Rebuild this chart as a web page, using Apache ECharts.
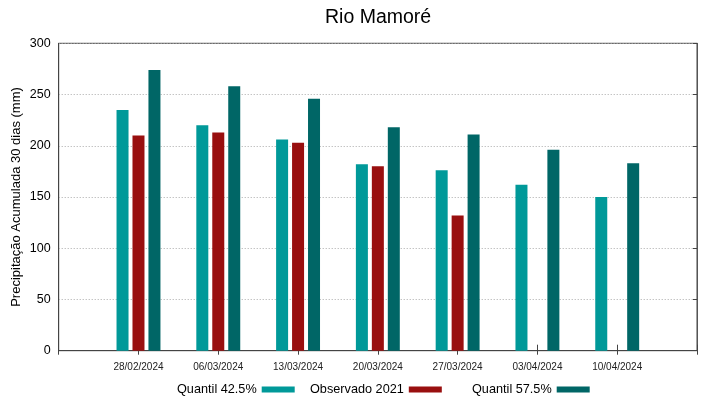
<!DOCTYPE html>
<html>
<head>
<meta charset="utf-8">
<script src="https://cdn.jsdelivr.net/npm/echarts@6/dist/echarts.min.js"></script>
<style>
html, body { margin: 0; padding: 0; background: #fff; }
#chart { width: 719px; height: 399px; }
</style>
</head>
<body>
<div id="chart"></div>
<script>
// datas (eixo x com uma posição vazia em cada ponta, como no gnuplot)
var dates = ['28/02/2024', '06/03/2024', '13/03/2024', '20/03/2024', '27/03/2024', '03/04/2024', '10/04/2024'];
var quantil425 = [235, 220, 206, 182, 176, 162, 150];
var observado2021 = [210, 213, 203, 180, 132, null, null];
var quantil575 = [274, 258, 246, 218, 211, 196, 183];
var yTicks = [0, 50, 100, 150, 200, 250, 300];

var font = 'Liberation Sans, Arial, sans-serif';

function pad(arr) {
    return [null].concat(arr).concat([null]);
}

var cats = pad(dates).map(function (d) { return d || ''; });

var chart = echarts.init(document.getElementById('chart'));

var legendText = { fontFamily: font, fontSize: 12.7, color: '#000' };

var option = {
    animation: false,
    backgroundColor: '#fff',
    textStyle: { fontFamily: font },
    title: {
        text: 'Rio Mamoré',
        left: 320,
        top: 3,
        textStyle: { fontFamily: font, fontSize: 19.5, fontWeight: 'normal', color: '#000' }
    },
    grid: {
        left: 58.7,
        right: 22,
        top: 43.3,
        bottom: 48.3,
        outerBoundsMode: 'none',
        containLabel: false,
        show: true,
        borderColor: '#444',
        borderWidth: 1
    },
    legend: [
        { left: 172, top: 378, align: 'right', itemWidth: 33, itemHeight: 6, icon: 'rect',
          textStyle: legendText, data: ['Quantil 42.5%'] },
        { left: 305, top: 378, align: 'right', itemWidth: 33, itemHeight: 6, icon: 'rect',
          textStyle: legendText, data: ['Observado 2021'] },
        { left: 467, top: 378, align: 'right', itemWidth: 33, itemHeight: 6, icon: 'rect',
          textStyle: legendText, data: ['Quantil 57.5%'] }
    ],
    xAxis: [
        {
            type: 'category',
            data: cats,
            boundaryGap: false,
            axisLine: { show: true, lineStyle: { color: '#444', width: 1 } },
            axisTick: { show: true, inside: true, length: 6, interval: 0, lineStyle: { color: '#444' } },
            axisLabel: { interval: 0, fontSize: 10, color: '#222', margin: 12, fontFamily: font },
            splitLine: { show: false }
        },
        {
            type: 'category',
            position: 'top',
            data: cats,
            boundaryGap: false,
            axisLine: { show: true, lineStyle: { color: '#444', width: 1 } },
            axisTick: { show: true, inside: true, length: 4, interval: 0, lineStyle: { color: '#444' } },
            axisLabel: { show: false },
            splitLine: { show: false }
        }
    ],
    yAxis: [
        {
            type: 'value',
            min: 0,
            max: 300,
            interval: 50,
            name: 'Precipitação Acumulada 30 dias (mm)',
            nameLocation: 'middle',
            nameGap: 36,
            nameMoveOverlap: false,
            nameTextStyle: { fontFamily: font, fontSize: 13, color: '#000' },
            axisLine: { show: true, lineStyle: { color: '#444', width: 1 } },
            axisTick: { show: false },
            axisLabel: {
                fontSize: 12.5, color: '#000', margin: 8, fontFamily: font,
                formatter: function (v) { return yTicks.indexOf(v) >= 0 ? String(v) : ''; }
            },
            splitLine: { show: true, lineStyle: { color: '#aaa', type: [1, 2], width: 1 } }
        },
        {
            type: 'value',
            position: 'right',
            min: 0,
            max: 300,
            interval: 50,
            axisLine: { show: true, lineStyle: { color: '#555', width: 1 } },
            axisTick: { show: true, inside: true, length: 4, lineStyle: { color: '#444' } },
            axisLabel: { show: false },
            splitLine: { show: false }
        }
    ],
    series: [
        {
            name: 'Quantil 42.5%',
            type: 'bar',
            barWidth: 12,
            barGap: '33%',
            itemStyle: { color: '#009999' },
            data: pad(quantil425)
        },
        {
            name: 'Observado 2021',
            type: 'bar',
            barWidth: 12,
            barGap: '33%',
            itemStyle: { color: '#990f0f' },
            data: pad(observado2021)
        },
        {
            name: 'Quantil 57.5%',
            type: 'bar',
            barWidth: 12,
            barGap: '33%',
            itemStyle: { color: '#006666' },
            data: pad(quantil575)
        }
    ]
};

chart.setOption(option);
</script>
</body>
</html>
